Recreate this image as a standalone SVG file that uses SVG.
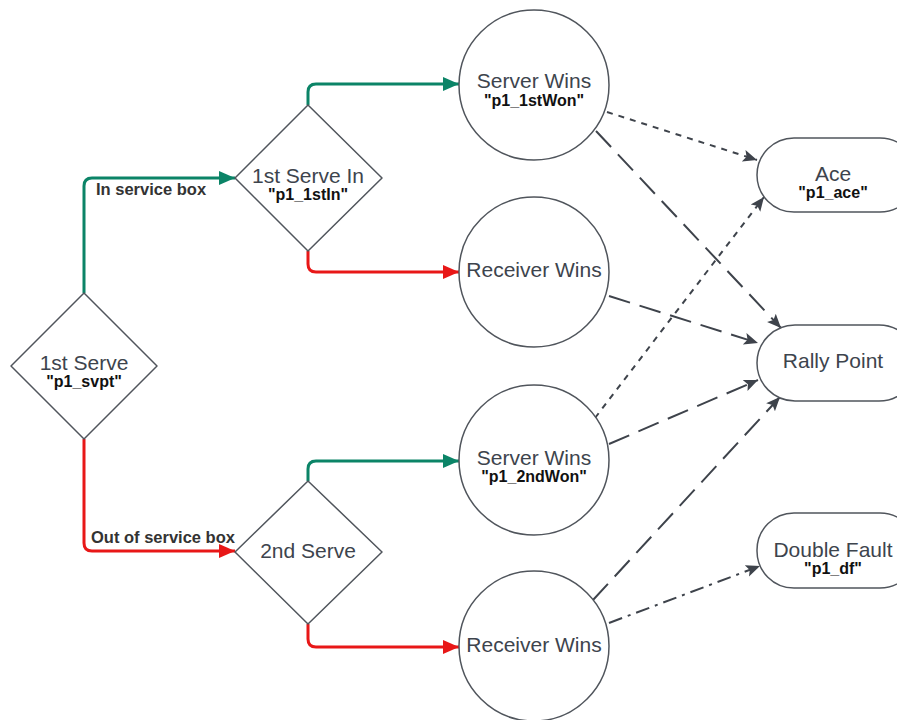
<svg xmlns="http://www.w3.org/2000/svg" width="897" height="720" viewBox="0 0 897 720">
<style>
.node{fill:#fff;stroke:#50555c;stroke-width:1.5}
.t{font-family:"Liberation Sans",Arial,sans-serif;font-size:21px;fill:#3d444d;text-anchor:middle}
.c{font-family:"Liberation Sans",Arial,sans-serif;font-size:16px;font-weight:bold;fill:#111;text-anchor:middle}
.lbl{font-family:"Liberation Sans",Arial,sans-serif;font-size:16.5px;font-weight:bold;fill:#333}
.g{fill:none;stroke:#0b8467;stroke-width:3;stroke-linejoin:round}
.r{fill:none;stroke:#e81717;stroke-width:3;stroke-linejoin:round}
.d{fill:none;stroke:#3e434b;stroke-width:2}
</style>
<defs>
<marker id="ag" markerUnits="userSpaceOnUse" markerWidth="20" markerHeight="20" refX="16" refY="8" orient="auto"><path d="M0,1 L16,8 L0,15 Z" fill="#0b8467"/></marker>
<marker id="ar" markerUnits="userSpaceOnUse" markerWidth="20" markerHeight="20" refX="16" refY="8" orient="auto"><path d="M0,1 L16,8 L0,15 Z" fill="#e81717"/></marker>
<marker id="ad" markerUnits="userSpaceOnUse" markerWidth="20" markerHeight="20" refX="14" refY="7" orient="auto"><path d="M0,1 L14,7 L0,13 L3,7 Z" fill="#3e434b"/></marker>
</defs>
<g id="connectors">
<path class="g" d="M84,293 V186 Q84,178 92,178 H235" marker-end="url(#ag)"/>
<path class="g" d="M308,105 V92 Q308,84 316,84 H459" marker-end="url(#ag)"/>
<path class="r" d="M308,251 V264 Q308,272 316,272 H459" marker-end="url(#ar)"/>
<path class="r" d="M84,439 V543 Q84,551 92,551 H235" marker-end="url(#ar)"/>
<path class="g" d="M308,481 V469 Q308,461 316,461 H459" marker-end="url(#ag)"/>
<path class="r" d="M308,624 V639 Q308,647 316,647 H459" marker-end="url(#ar)"/>
<path class="d" d="M607,112 L757,160" stroke-dasharray="6 6" marker-end="url(#ad)"/>
<path class="d" d="M596,131 L781,328" stroke-dasharray="22 10" marker-end="url(#ad)"/>
<path class="d" d="M609,296 L758,343" stroke-dasharray="22 10" marker-end="url(#ad)"/>
<path class="d" d="M595,418 L764,197" stroke-dasharray="6 6" marker-end="url(#ad)"/>
<path class="d" d="M609,444 L758,380" stroke-dasharray="22 10" marker-end="url(#ad)"/>
<path class="d" d="M593,600 L780,397" stroke-dasharray="22 10" marker-end="url(#ad)"/>
<path class="d" d="M609,623 L760,566" stroke-dasharray="14 6 3 6" marker-end="url(#ad)"/>
<text class="lbl" x="96" y="195">In service box</text>
<text class="lbl" x="91" y="543">Out of service box</text>
</g>
<g id="n_1stServe">
<path class="node" d="M84,293 L157,366 L84,439 L11,366 Z" stroke-linejoin="round"/>
<text class="t" x="84" y="370">1st Serve</text>
<text class="c" x="84" y="387">"p1_svpt"</text>
</g>
<g id="n_1stServeIn">
<path class="node" d="M308,105 L382,178 L308,251 L235,178 Z" stroke-linejoin="round"/>
<text class="t" x="308" y="183">1st Serve In</text>
<text class="c" x="308" y="200">"p1_1stIn"</text>
</g>
<g id="n_2ndServe">
<path class="node" d="M308,481 L382,552 L308,624 L235,552 Z" stroke-linejoin="round"/>
<text class="t" x="308" y="558">2nd Serve</text>
</g>
<g id="n_sw1">
<circle class="node" cx="534" cy="85" r="75"/>
<text class="t" x="534" y="88">Server Wins</text>
<text class="c" x="534" y="106">"p1_1stWon"</text>
</g>
<g id="n_rw1">
<circle class="node" cx="534" cy="272" r="75"/>
<text class="t" x="534" y="277">Receiver Wins</text>
</g>
<g id="n_sw2">
<circle class="node" cx="534" cy="460" r="75"/>
<text class="t" x="534" y="465">Server Wins</text>
<text class="c" x="534" y="482">"p1_2ndWon"</text>
</g>
<g id="n_rw2">
<circle class="node" cx="534" cy="646" r="75"/>
<text class="t" x="534" y="652">Receiver Wins</text>
</g>
<g id="n_ace">
<rect class="node" x="757" y="138" width="160" height="74" rx="37"/>
<text class="t" x="833" y="181">Ace</text>
<text class="c" x="833" y="198">"p1_ace"</text>
</g>
<g id="n_rally">
<rect class="node" x="757" y="325" width="160" height="76" rx="38"/>
<text class="t" x="833" y="368">Rally Point</text>
</g>
<g id="n_df">
<rect class="node" x="757" y="513" width="160" height="75" rx="37"/>
<text class="t" x="833" y="557">Double Fault</text>
<text class="c" x="833" y="574">"p1_df"</text>
</g>
</svg>
